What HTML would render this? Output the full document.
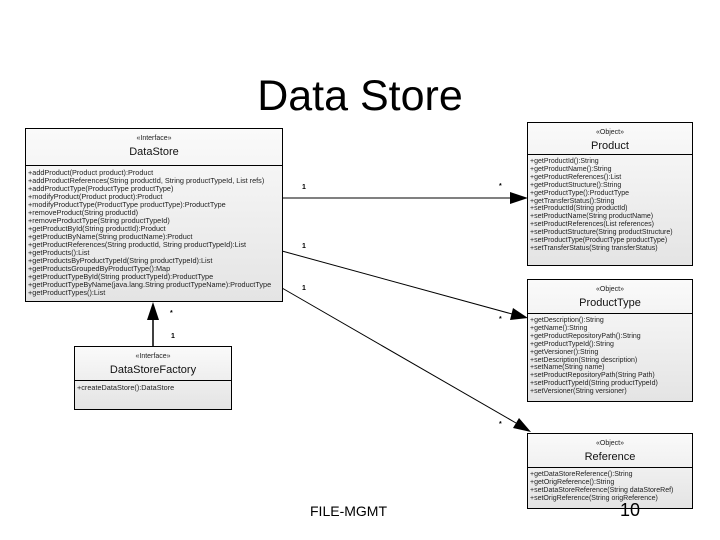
<!DOCTYPE html>
<html><head><meta charset="utf-8"><style>
body{margin:0;width:720px;height:540px;background:#fff;position:relative;overflow:hidden;font-family:"Liberation Sans",sans-serif}
.t{position:absolute;left:0;width:720px;text-align:center;top:72px;font-size:43px;color:#000}
.box{position:absolute;border:1.5px solid #000;background:linear-gradient(#fafafa,#e4e4e4);box-sizing:border-box}
.hd{border-bottom:1.5px solid #000;text-align:center;box-sizing:border-box}
.st{font-size:7px;color:#222;padding-top:6px}
.nm{font-size:11px;color:#111;margin-top:4px}
.m{font-size:7.3px;line-height:8px;padding:3px 0 0 2px;color:#222;white-space:nowrap}
svg{position:absolute;left:0;top:0}
.lb{position:absolute;font-size:7px;font-weight:bold}
</style></head><body>
<div class="t">Data Store</div>
<svg width="720" height="540">
<line x1="282" y1="198" x2="512" y2="198" stroke="#000"/>
<polygon points="528,198 510,192 510,204"/>
<line x1="282" y1="251" x2="512" y2="314" stroke="#000"/>
<polygon points="528,318 513,308 510,320"/>
<line x1="282" y1="288" x2="516" y2="423" stroke="#000"/>
<polygon points="531,432 519,418 513,428"/>
<line x1="153" y1="346" x2="153" y2="318" stroke="#000" stroke-width="1.5"/>
<polygon points="153,302 147,320 159,320"/>
</svg>
<div class="lb" style="left:302px;top:184px">1</div>
<div class="lb" style="left:499px;top:183px">*</div>
<div class="lb" style="left:302px;top:243px">1</div>
<div class="lb" style="left:499px;top:316px">*</div>
<div class="lb" style="left:302px;top:285px">1</div>
<div class="lb" style="left:499px;top:421px">*</div>
<div class="lb" style="left:170px;top:310px">*</div>
<div class="lb" style="left:171px;top:333px">1</div>

<div class="box" style="left:25px;top:128px;width:258px;height:174px">
<div class="hd" style="height:37px"><div class="st">«Interface»</div><div class="nm">DataStore</div></div>
<div class="m">+addProduct(Product product):Product<br>+addProductReferences(String productId, String productTypeId, List refs)<br>+addProductType(ProductType productType)<br>+modifyProduct(Product product):Product<br>+modifyProductType(ProductType productType):ProductType<br>+removeProduct(String productId)<br>+removeProductType(String productTypeId)<br>+getProductById(String productId):Product<br>+getProductByName(String productName):Product<br>+getProductReferences(String productId, String productTypeId):List<br>+getProducts():List<br>+getProductsByProductTypeId(String productTypeId):List<br>+getProductsGroupedByProductType():Map<br>+getProductTypeById(String productTypeId):ProductType<br>+getProductTypeByName(java.lang.String productTypeName):ProductType<br>+getProductTypes():List</div>
</div>

<div class="box" style="left:74px;top:346px;width:158px;height:64px">
<div class="hd" style="height:34px"><div class="st">«Interface»</div><div class="nm">DataStoreFactory</div></div>
<div class="m">+createDataStore():DataStore</div>
</div>

<div class="box" style="left:527px;top:122px;width:166px;height:144px">
<div class="hd" style="height:32px"><div class="st">«Object»</div><div class="nm">Product</div></div>
<div class="m" style="line-height:7.9px;font-size:7px">+getProductId():String<br>+getProductName():String<br>+getProductReferences():List<br>+getProductStructure():String<br>+getProductType():ProductType<br>+getTransferStatus():String<br>+setProductId(String productId)<br>+setProductName(String productName)<br>+setProductReferences(List references)<br>+setProductStructure(String productStructure)<br>+setProductType(ProductType productType)<br>+setTransferStatus(String transferStatus)</div>
</div>

<div class="box" style="left:527px;top:279px;width:166px;height:123px">
<div class="hd" style="height:34px"><div class="st">«Object»</div><div class="nm">ProductType</div></div>
<div class="m" style="line-height:7.9px;font-size:7px">+getDescription():String<br>+getName():String<br>+getProductRepositoryPath():String<br>+getProductTypeId():String<br>+getVersioner():String<br>+setDescription(String description)<br>+setName(String name)<br>+setProductRepositoryPath(String Path)<br>+setProductTypeId(String productTypeId)<br>+setVersioner(String versioner)</div>
</div>

<div class="box" style="left:527px;top:433px;width:166px;height:76px">
<div class="hd" style="height:34px"><div class="st">«Object»</div><div class="nm">Reference</div></div>
<div class="m" style="line-height:7.9px;font-size:7px">+getDataStoreReference():String<br>+getOrigReference():String<br>+setDataStoreReference(String dataStoreRef)<br>+setOrigReference(String origReference)</div>
</div>

<div style="position:absolute;left:310px;top:503px;font-size:14px">FILE-MGMT</div>
<div style="position:absolute;left:620px;top:500px;font-size:18px">10</div>
</body></html>
